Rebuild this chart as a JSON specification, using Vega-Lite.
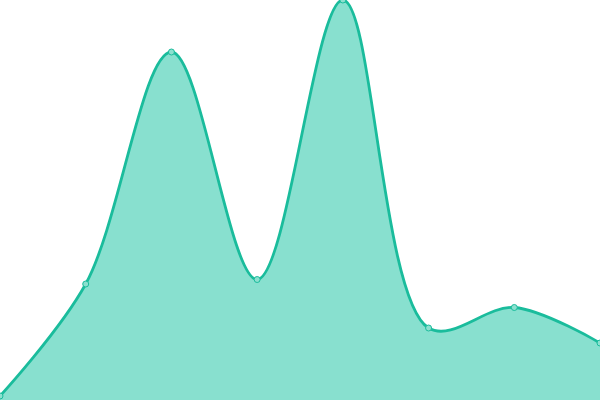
{
  "$schema": "https://vega.github.io/schema/vega-lite/v6.json",
  "autosize": {"type": "none"},
  "width": 600,
  "height": 400,
  "padding": 0,
  "background": "white",
  "view": {"stroke": null},
  "data": {"values": [
    {"x": 0, "y": 4},
    {"x": 1, "y": 116},
    {"x": 2, "y": 348},
    {"x": 3, "y": 120.5},
    {"x": 4, "y": 400},
    {"x": 5, "y": 72},
    {"x": 6, "y": 92.5},
    {"x": 7, "y": 57}
  ]},
  "encoding": {
    "x": {"field": "x", "type": "quantitative", "scale": {"domain": [0, 7], "nice": false}, "axis": null},
    "y": {"field": "y", "type": "quantitative", "scale": {"domain": [0, 400], "nice": false}, "axis": null}
  },
  "layer": [
    {"mark": {"type": "area", "interpolate": "catmull-rom", "color": "#88e0cf", "opacity": 1}},
    {"mark": {"type": "line", "interpolate": "catmull-rom", "color": "#1abc9c", "strokeWidth": 2.8}},
    {"mark": {"type": "point", "filled": true, "size": 36, "fill": "#8ce0cf", "stroke": "#1abc9c", "strokeWidth": 1, "opacity": 1}}
  ]
}
